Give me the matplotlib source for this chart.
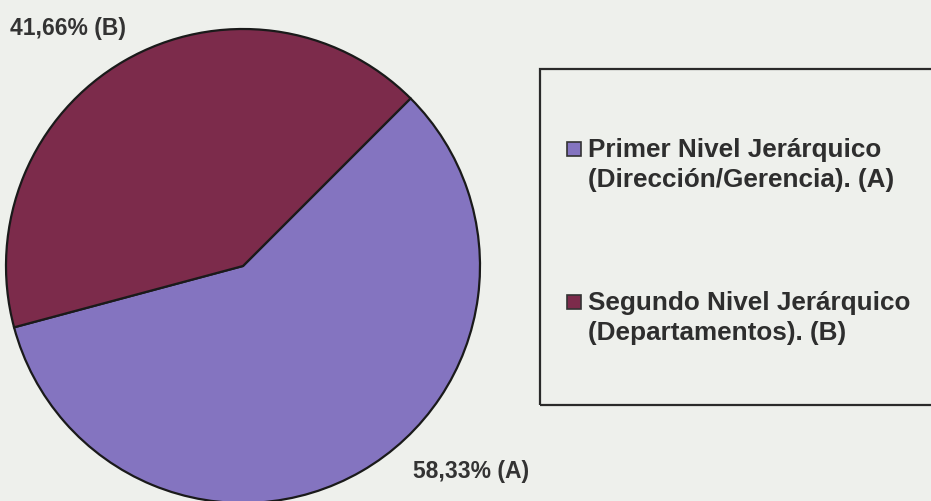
import matplotlib.pyplot as plt
from matplotlib.patches import Rectangle

labels = ["Primer Nivel Jerárquico\n(Dirección/Gerencia). (A)",
          "Segundo Nivel Jerárquico\n(Departamentos). (B)"]
values = [58.33, 41.66]
value_labels = ["58,33% (A)", "41,66% (B)"]
colors = ["#8474c0", "#7c2b4b"]

W, H = 931, 502
plt.rcParams["font.family"] = ["Liberation Sans", "DejaVu Sans"]

fig = plt.figure(figsize=(W / 100, H / 100), dpi=100)
fig.patch.set_facecolor("#eef0ec")
ax = fig.add_axes([0, 0, 1, 1])

ax.pie(values, colors=colors, startangle=195, counterclock=True,
       center=(243, H - 267), radius=237, frame=True,
       wedgeprops=dict(edgecolor="#1a1a1a", linewidth=1.6))
ax.set_xlim(0, W)
ax.set_ylim(0, H)
ax.set_aspect("equal")
ax.axis("off")

# value labels
ax.text(10, H - 28, value_labels[1], fontsize=16.5, fontweight="bold",
        color="#333333", ha="left", va="center")
ax.text(413, H - 472, value_labels[0], fontsize=16.5, fontweight="bold",
        color="#333333", ha="left", va="center")

# legend box
ax.add_patch(Rectangle((540, H - 406), 420, 336, facecolor="none",
                       edgecolor="#2a2a2a", linewidth=1.6))
for i, (lab, c) in enumerate(zip(labels, colors)):
    y = H - (150 + i * 153)
    ax.add_patch(Rectangle((567, y - 7), 14, 14, facecolor=c,
                           edgecolor="#333333", linewidth=1.2))
    lines = lab.split("\n")
    ax.text(588, y, lines[0], fontsize=18.8, fontweight="bold",
            color="#2e2e2e", ha="left", va="center")
    ax.text(588, y - 30, lines[1], fontsize=18.8, fontweight="bold",
            color="#2e2e2e", ha="left", va="center")

fig.savefig("out.png", dpi=100, facecolor=fig.get_facecolor())
